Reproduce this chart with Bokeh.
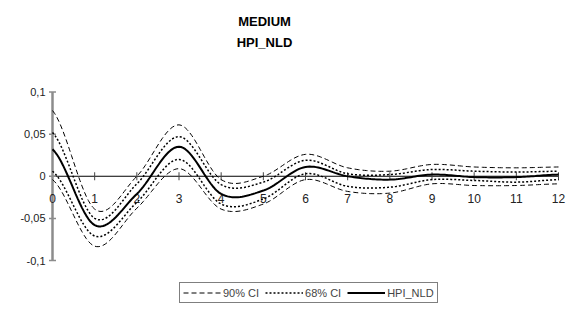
import numpy as np
from bokeh.plotting import figure
from bokeh.models import Range1d, Legend, LegendItem
from bokeh.core.properties import value
from bokeh.embed import file_html
from bokeh.resources import INLINE

# ---- data ----
horizon = [0, 1, 2, 3, 4, 5, 6, 7, 8, 9, 10, 11, 12]
x_tick_labels = ["0", "1", "2", "3", "4", "5", "6", "7", "8", "9", "10", "11", "12"]
y_ticks = [0.1, 0.05, 0.0, -0.05, -0.1]
y_tick_labels = ["0,1", "0,05", "0", "-0,05", "-0,1"]

ci90_upper = [0.078, -0.039, 0.000, 0.061, -0.004, 0.000, 0.026, 0.010, 0.006, 0.014, 0.011, 0.010, 0.011]
ci68_upper = [0.052, -0.050, -0.009, 0.047, -0.010, -0.007, 0.019, 0.003, 0.002, 0.008, 0.006, 0.005, 0.006]
hpi_nld    = [0.032, -0.058, -0.021, 0.035, -0.021, -0.017, 0.011, 0.000, -0.004, 0.002, -0.001, -0.001, 0.002]
ci68_lower = [0.006, -0.071, -0.031, 0.020, -0.033, -0.027, 0.003, -0.012, -0.013, -0.004, -0.005, -0.007, -0.004]
ci90_lower = [-0.004, -0.083, -0.038, 0.009, -0.039, -0.033, -0.004, -0.018, -0.020, -0.009, -0.011, -0.011, -0.009]

FONT = "Liberation Sans"


def smooth(xs, ys, n=20):
    """Spreadsheet-style smoothed line (Catmull-Rom) drawn through the data points."""
    xs = np.asarray(xs, float)
    ys = np.asarray(ys, float)
    px = np.concatenate([[2 * xs[0] - xs[1]], xs, [2 * xs[-1] - xs[-2]]])
    py = np.concatenate([[ys[0]], ys, [ys[-1]]])
    ox, oy = [], []
    t = np.linspace(0, 1, n, endpoint=False)
    for i in range(1, len(px) - 2):
        def cr(a0, a1, a2, a3):
            return 0.5 * ((2 * a1) + (-a0 + a2) * t + (2 * a0 - 5 * a1 + 4 * a2 - a3) * t ** 2
                          + (-a0 + 3 * a1 - 3 * a2 + a3) * t ** 3)
        ox.extend(cr(px[i - 1], px[i], px[i + 1], px[i + 2]))
        oy.extend(cr(py[i - 1], py[i], py[i + 1], py[i + 2]))
    ox.append(xs[-1])
    oy.append(ys[-1])
    return ox, oy


W, H = 566, 306
sx = (558 - 52) / 12.0
sy = (260 - 91.5) / 0.2
x0 = -52 / sx
x1 = 12 + (W - 558) / sx
y1 = 0.1 + 91.5 / sy
y0 = -0.1 - (H - 260) / sy

p = figure(width=W, height=H, output_backend="svg", toolbar_location=None,
           x_range=Range1d(x0, x1), y_range=Range1d(y0, y1),
           x_axis_type=None, y_axis_type=None, min_border=0)
p.outline_line_color = None
p.grid.visible = False
p.background_fill_color = "white"
p.border_fill_color = "white"

# axes drawn at the origin, spreadsheet style
p.line([horizon[0], horizon[-1]], [0, 0], line_color="black", line_width=1)
p.scatter(horizon, [0] * len(horizon), marker="dash", size=8, angle=np.pi / 2,
          line_color="#444444", line_width=1)
p.line([0, 0], [y_ticks[-1], y_ticks[0]], line_color="#8c8c8c", line_width=2.5)
p.scatter([0] * len(y_ticks), y_ticks, marker="dash", size=7, line_color="#8c8c8c", line_width=1.5)

p.text(x=horizon, y=[0] * len(horizon), text=x_tick_labels, y_offset=22,
       text_align="center", text_baseline="middle", text_font=value(FONT),
       text_font_size="12px", text_color="#222222")
p.text(x=[0] * len(y_ticks), y=y_ticks, text=y_tick_labels, x_offset=-7,
       text_align="right", text_baseline="middle", text_font=value(FONT),
       text_font_size="11px", text_color="#222222")

# series
r90u = p.line(*smooth(horizon, ci90_upper), line_color="black", line_width=1, line_dash="5 3")
p.line(*smooth(horizon, ci90_lower), line_color="black", line_width=1, line_dash="5 3")
r68u = p.line(*smooth(horizon, ci68_upper), line_color="black", line_width=1.5, line_dash="2 2")
p.line(*smooth(horizon, ci68_lower), line_color="black", line_width=1.5, line_dash="2 2")
rmid = p.line(*smooth(horizon, hpi_nld), line_color="black", line_width=2)

# titles
tx = x0 + 264 / sx
p.text(x=[tx, tx], y=[y1 - 20.5 / sy, y1 - 42 / sy], text=["MEDIUM", "HPI_NLD"],
       text_align="center", text_baseline="middle", text_font=value(FONT),
       text_font_size="13px", text_font_style="bold", text_color="black")

legend = Legend(items=[LegendItem(label="90% CI", renderers=[r90u]),
                       LegendItem(label="68% CI", renderers=[r68u]),
                       LegendItem(label="HPI_NLD", renderers=[rmid])],
                orientation="horizontal", location=(179, 3),
                glyph_width=38, glyph_height=13, label_height=13,
                label_standoff=2, spacing=6, padding=3, margin=0,
                border_line_color="black", border_line_width=1,
                label_text_font=FONT, label_text_font_size="11px",
                background_fill_color="white", background_fill_alpha=1)
p.add_layout(legend)

open("out.html", "w").write(file_html(p, INLINE))
